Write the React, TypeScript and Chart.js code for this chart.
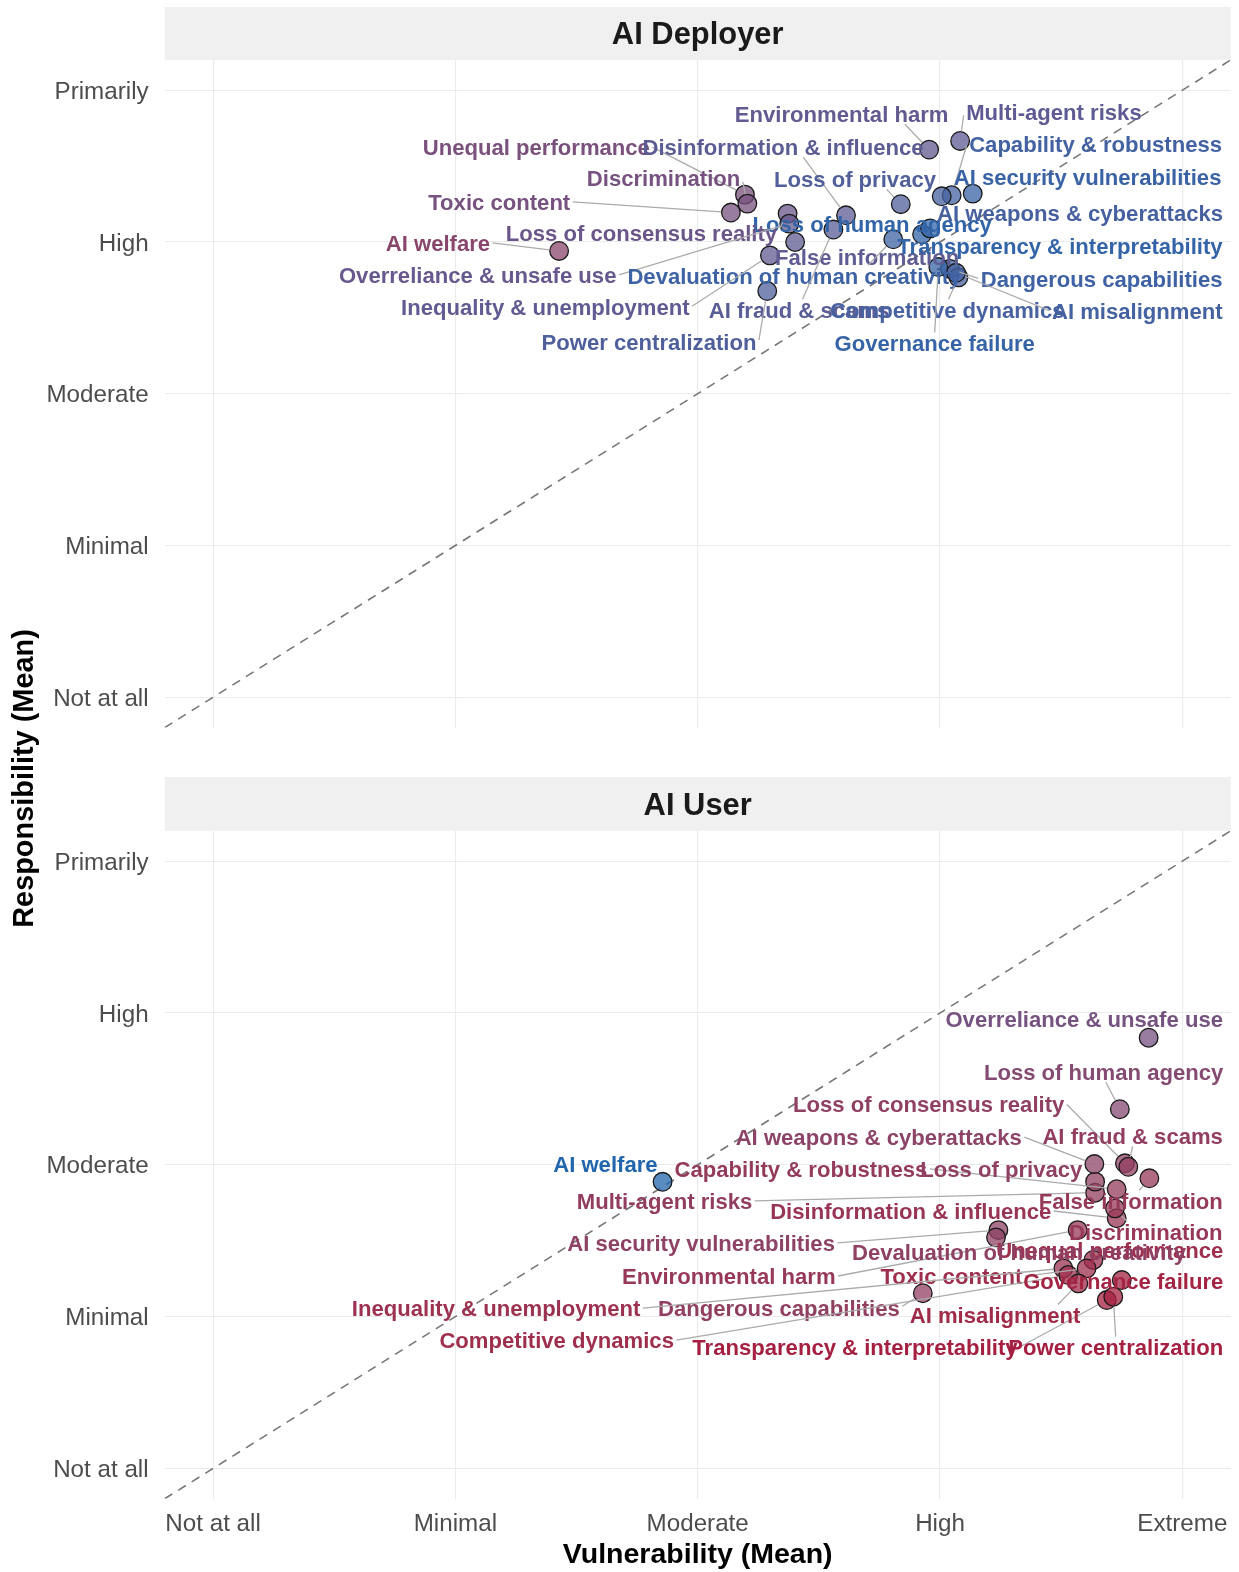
import React, { useEffect, useRef } from "react";
import { Chart, registerables } from "chart.js";

Chart.register(...registerables);

// ---------------- data ----------------
const risks = [
  "Environmental harm",
  "Multi-agent risks",
  "Unequal performance",
  "Disinformation & influence",
  "Capability & robustness",
  "Discrimination",
  "Loss of privacy",
  "AI security vulnerabilities",
  "Toxic content",
  "Loss of human agency",
  "AI weapons & cyberattacks",
  "AI welfare",
  "Loss of consensus reality",
  "False information",
  "Transparency & interpretability",
  "Overreliance & unsafe use",
  "Devaluation of human creativity",
  "Dangerous capabilities",
  "Inequality & unemployment",
  "AI fraud & scams",
  "Competitive dynamics",
  "AI misalignment",
  "Power centralization",
  "Governance failure",
];

const xTickLabels = ["Not at all", "Minimal", "Moderate", "High", "Extreme"];
const yTickLabels = ["Not at all", "Minimal", "Moderate", "High", "Primarily"];
const panelTitles = ["AI Deployer", "AI User"];

const deployerVulnerability = [
  3.955, 4.083, 3.195, 3.612, 4.048, 3.205, 3.838, 4.135, 3.137, 3.926, 4.007, 2.428,
  3.371, 3.402, 3.959, 3.378, 3.807, 4.041, 3.298, 3.56, 4.076, 4.066, 3.287, 3.993,
];
const deployerResponsibility = [
  4.609, 4.666, 4.312, 4.176, 4.308, 4.253, 4.249, 4.319, 4.194, 4.051, 4.301, 3.941,
  4.187, 4.0, 4.09, 4.121, 4.018, 3.823, 3.912, 4.082, 3.767, 3.797, 3.677, 3.835,
];
const userVulnerability = [
  4.568, 4.64, 4.633, 4.729, 4.729, 4.722, 4.64, 4.241, 4.605, 4.742, 4.637, 2.855,
  4.763, 4.864, 4.688, 4.861, 4.231, 3.929, 4.509, 4.777, 4.529, 4.571, 4.715, 4.75,
];
const userResponsibility = [
  2.57, 2.816, 2.373, 2.648, 2.839, 2.713, 2.889, 2.57, 2.318, 3.366, 3.005, 2.888,
  3.01, 2.911, 2.109, 3.837, 2.522, 2.154, 2.318, 2.987, 2.274, 2.219, 2.131, 2.241,
];

// label placement (layout, in axis units) - repelled label centres
const deployerLabelX = [
  3.594, 4.47, 2.334, 3.352, 4.642, 2.859, 3.649, 4.609, 2.181, 3.72, 4.578, 1.928,
  2.768, 3.699, 4.495, 2.092, 3.399, 4.667, 2.371, 3.418, 4.03, 4.814, 2.799, 3.978,
];
const deployerLabelY = [
  4.846, 4.86, 4.628, 4.628, 4.649, 4.424, 4.417, 4.43, 4.265, 4.12, 4.192, 3.994,
  4.06, 3.902, 3.974, 3.782, 3.776, 3.756, 3.572, 3.552, 3.552, 3.545, 3.34, 3.334,
];
const userLabelX = [
  3.128, 2.863, 4.702, 3.879, 3.426, 4.849, 4.253, 3.014, 4.047, 4.675, 3.747, 2.619,
  3.953, 4.787, 3.649, 4.595, 4.326, 3.335, 2.168, 4.795, 2.418, 4.227, 4.725, 4.756,
];
const userLabelY = [
  2.267, 2.762, 2.439, 2.696, 2.974, 2.558, 2.974, 2.485, 2.267, 3.614, 3.185, 3.007,
  3.403, 2.762, 1.798, 3.958, 2.426, 2.056, 2.056, 3.192, 1.845, 2.01, 1.798, 2.234,
];

// ---------------- layout / style ----------------
const W = 1239;
const H = 1572;
const AXIS_MIN = 0.8;
const AXIS_MAX = 5.2;
const PLOT_LEFT = 164.6;
const PLOT_RIGHT = 1230.8;
const FONT = "'Liberation Sans', Arial, Helvetica, sans-serif";
const LOW_COLOR = [33, 102, 172];
const HIGH_COLOR = [165, 32, 64];
const LABEL_SIZE = 22.1;
const TICK_SIZE = 24.2;
const TEXT_DY = 2;
const POINT_R = 9.3;

const panelLayout = [
  { stripTop: 7, top: 59.9, bottom: 727.6, showX: false },
  { stripTop: 777, top: 830.8, bottom: 1498.8, showX: true },
];

// ---------------- colour scale (Lab interpolation) ----------------
function toLin(c: number) {
  c /= 255;
  return c <= 0.04045 ? c / 12.92 : Math.pow((c + 0.055) / 1.055, 2.4);
}
function fromLin(c: number) {
  const v = c <= 0.0031308 ? 12.92 * c : 1.055 * Math.pow(c, 1 / 2.4) - 0.055;
  return Math.round(Math.max(0, Math.min(1, v)) * 255);
}
function rgbToLab(rgb: number[]) {
  const R = toLin(rgb[0]), G = toLin(rgb[1]), B = toLin(rgb[2]);
  const X = (0.4124 * R + 0.3576 * G + 0.1805 * B) / 0.95047;
  const Y = 0.2126 * R + 0.7152 * G + 0.0722 * B;
  const Z = (0.0193 * R + 0.1192 * G + 0.9505 * B) / 1.08883;
  const f = (t: number) => (t > 0.008856 ? Math.cbrt(t) : 7.787 * t + 16 / 116);
  const fx = f(X), fy = f(Y), fz = f(Z);
  return [116 * fy - 16, 500 * (fx - fy), 200 * (fy - fz)];
}
function labToRgb(lab: number[]) {
  const fy = (lab[0] + 16) / 116;
  const fx = fy + lab[1] / 500;
  const fz = fy - lab[2] / 200;
  const inv = (t: number) => (t * t * t > 0.008856 ? t * t * t : (t - 16 / 116) / 7.787);
  const X = inv(fx) * 0.95047, Y = inv(fy), Z = inv(fz) * 1.08883;
  const R = 3.2406 * X - 1.5372 * Y - 0.4986 * Z;
  const G = -0.9689 * X + 1.8758 * Y + 0.0415 * Z;
  const B = 0.0557 * X - 0.204 * Y + 1.057 * Z;
  return [fromLin(R), fromLin(G), fromLin(B)];
}
const lowLab = rgbToLab(LOW_COLOR);
const highLab = rgbToLab(HIGH_COLOR);

const allGaps = [
  ...deployerVulnerability.map((v, i) => Math.abs(deployerResponsibility[i] - v)),
  ...userVulnerability.map((v, i) => Math.abs(userResponsibility[i] - v)),
];
const gapMin = Math.min(...allGaps);
const gapMax = Math.max(...allGaps);

function gapColor(gap: number) {
  const t = (gap - gapMin) / (gapMax - gapMin);
  const lab = lowLab.map((l, k) => l + (highLab[k] - l) * t);
  return labToRgb(lab);
}
const rgba = (c: number[], a: number) => `rgba(${c[0]},${c[1]},${c[2]},${a})`;

// ggrepel-style connection point on the label box
function connect(px: number, py: number, b: { x1: number; y1: number; x2: number; y2: number }) {
  let ox: number, oy: number;
  let left = false, right = false, top = false, bottom = false;
  if (px >= b.x1 && px <= b.x2) ox = px;
  else if (px > b.x2) { ox = b.x2; right = true; }
  else { ox = b.x1; left = true; }
  if (py >= b.y1 && py <= b.y2) oy = py;
  else if (py > b.y2) { oy = b.y2; bottom = true; }
  else { oy = b.y1; top = true; }
  const midx = (b.x1 + b.x2) / 2;
  const midy = (b.y1 + b.y2) / 2;
  const d = Math.hypot(px - ox, py - oy);
  if ((top || bottom) && !(left || right)) {
    const altd = Math.hypot(px - midx, py - oy);
    ox = ox + ((midx - ox) * d) / altd;
  } else if ((left || right) && !(top || bottom)) {
    const altd = Math.hypot(px - ox, py - midy);
    oy = oy + ((midy - oy) * d) / altd;
  } else if ((left || right) && (top || bottom)) {
    const a1 = Math.hypot(px - midx, py - oy);
    const a2 = Math.hypot(px - ox, py - midy);
    if (a1 < a2) ox = ox + ((midx - ox) * d) / a1;
    else oy = oy + ((midy - oy) * d) / a2;
  }
  return [ox, oy];
}

function makeChart(canvas: HTMLCanvasElement, p: number) {
  const layout = panelLayout[p];
  const vul = p === 0 ? deployerVulnerability : userVulnerability;
  const resp = p === 0 ? deployerResponsibility : userResponsibility;
  const lx = p === 0 ? deployerLabelX : userLabelX;
  const ly = p === 0 ? deployerLabelY : userLabelY;
  const colors = vul.map((v, i) => gapColor(Math.abs(resp[i] - v)));

  const stripPlugin = {
    id: "strip" + p,
    beforeDraw(chart: any) {
      const { ctx, chartArea } = chart;
      ctx.save();
      ctx.fillStyle = "#F0F0F0";
      ctx.fillRect(chartArea.left, layout.stripTop, chartArea.right - chartArea.left, chartArea.top - layout.stripTop);
      ctx.fillStyle = "#1A1A1A";
      ctx.font = `bold 30.9px ${FONT}`;
      ctx.textAlign = "center";
      ctx.textBaseline = "middle";
      ctx.fillText(panelTitles[p], (chartArea.left + chartArea.right) / 2, (layout.stripTop + chartArea.top) / 2 + 2.5);
      ctx.restore();
    },
  };

  const labelPlugin = {
    id: "labels" + p,
    afterDatasetsDraw(chart: any) {
      const { ctx, chartArea } = chart;
      const xs = chart.scales.x;
      const ys = chart.scales.y;
      ctx.save();
      ctx.font = `bold ${LABEL_SIZE}px ${FONT}`;
      ctx.textAlign = "center";
      ctx.textBaseline = "middle";
      const halfH = LABEL_SIZE * 0.37 + 2.5;
      risks.forEach((name, i) => {
        const px = xs.getPixelForValue(vul[i]);
        const py = ys.getPixelForValue(resp[i]);
        let cx = xs.getPixelForValue(lx[i]);
        const cy = ys.getPixelForValue(ly[i]);
        const w = ctx.measureText(name).width;
        const halfW = w / 2 + 2.5;
        if (cx + halfW > chartArea.right - 5) cx = chartArea.right - 5 - halfW;
        if (cx - halfW < chartArea.left + 5) cx = chartArea.left + 5 + halfW;
        const box = { x1: cx - halfW, x2: cx + halfW, y1: cy - halfH, y2: cy + halfH };
        const [sx, sy] = connect(px, py, box);
        const L = Math.hypot(px - sx, py - sy);
        if (L > POINT_R + 5) {
          const ex = px - ((px - sx) / L) * (POINT_R + 0.5);
          const ey = py - ((py - sy) / L) * (POINT_R + 0.5);
          ctx.strokeStyle = "#ABABAB";
          ctx.lineWidth = 1.3;
          ctx.beginPath();
          ctx.moveTo(sx, sy);
          ctx.lineTo(ex, ey);
          ctx.stroke();
        }
        ctx.fillStyle = rgba(colors[i], 1);
        ctx.fillText(name, cx, cy + TEXT_DY);
      });
      ctx.restore();
    },
  };

  const titlePlugin = {
    id: "titles" + p,
    afterDraw(chart: any) {
      if (!layout.showX) return;
      const { ctx, chartArea } = chart;
      ctx.save();
      ctx.fillStyle = "#000000";
      ctx.textAlign = "center";
      ctx.textBaseline = "middle";
      ctx.font = `bold 28.5px ${FONT}`;
      ctx.fillText("Vulnerability (Mean)", (chartArea.left + chartArea.right) / 2, 1555.5);
      ctx.font = `bold 28.9px ${FONT}`;
      ctx.translate(25.5, 778.5);
      ctx.rotate(-Math.PI / 2);
      ctx.fillText("Responsibility (Mean)", 0, 0);
      ctx.restore();
    },
  };

  const tickValues = xTickLabels.map((_, k) => k + 1);

  return new Chart(canvas, {
    type: "scatter",
    data: {
      datasets: [
        {
          type: "line",
          data: [
            { x: AXIS_MIN, y: AXIS_MIN },
            { x: AXIS_MAX, y: AXIS_MAX },
          ],
          borderColor: "#777777",
          borderWidth: 1.6,
          borderDash: [9, 7],
          pointRadius: 0,
          fill: false,
          order: 2,
        },
        {
          type: "scatter",
          data: vul.map((v, i) => ({ x: v, y: resp[i] })),
          pointRadius: POINT_R,
          pointBackgroundColor: colors.map((c) => rgba(c, 0.75)),
          pointBorderColor: "#1A1A1A",
          pointBorderWidth: 1.3,
          order: 1,
        },
      ],
    } as any,
    options: {
      animation: false,
      responsive: false,
      devicePixelRatio: 1,
      events: [],
      layout: {
        autoPadding: false,
        padding: {
          left: 0,
          top: layout.top,
          right: W - PLOT_RIGHT,
          bottom: layout.showX ? 0 : H - layout.bottom,
        },
      },
      plugins: { legend: { display: false }, tooltip: { enabled: false } },
      scales: {
        x: {
          type: "linear",
          min: AXIS_MIN,
          max: AXIS_MAX,
          afterBuildTicks: (s: any) => {
            s.ticks = tickValues.map((value) => ({ value }));
          },
          afterFit: (s: any) => {
            s.height = layout.showX ? H - layout.bottom : 0;
            s.paddingLeft = 0;
            s.paddingRight = 0;
          },
          grid: { color: "#EBEBEB", lineWidth: 1.1, drawTicks: false },
          border: { display: false },
          ticks: {
            display: layout.showX,
            callback: (v: any) => xTickLabels[Math.round(v) - 1],
            font: { family: FONT, size: TICK_SIZE },
            color: "#4D4D4D",
            padding: 11,
            maxRotation: 0,
            autoSkip: false,
          },
        },
        y: {
          type: "linear",
          min: AXIS_MIN,
          max: AXIS_MAX,
          afterBuildTicks: (s: any) => {
            s.ticks = tickValues.map((value) => ({ value }));
          },
          afterFit: (s: any) => {
            s.width = PLOT_LEFT;
            s.paddingTop = 0;
            s.paddingBottom = 0;
          },
          grid: { color: "#EBEBEB", lineWidth: 1.1, drawTicks: false },
          border: { display: false },
          ticks: {
            callback: (v: any) => yTickLabels[Math.round(v) - 1],
            font: { family: FONT, size: TICK_SIZE },
            color: "#4D4D4D",
            padding: 16,
            labelOffset: 2,
            autoSkip: false,
          },
        },
      },
    } as any,
    plugins: [stripPlugin, labelPlugin, titlePlugin],
  });
}

export default function App() {
  const topRef = useRef<HTMLCanvasElement | null>(null);
  const bottomRef = useRef<HTMLCanvasElement | null>(null);

  useEffect(() => {
    document.body.style.margin = "0";
    const charts: Chart[] = [];
    if (topRef.current) charts.push(makeChart(topRef.current, 0));
    if (bottomRef.current) charts.push(makeChart(bottomRef.current, 1));
    return () => charts.forEach((c) => c.destroy());
  }, []);

  return (
    <div style={{ position: "absolute", left: 0, top: 0, width: W, height: H, background: "#FFFFFF" }}>
      <canvas ref={topRef} width={W} height={H} style={{ position: "absolute", left: 0, top: 0, width: W, height: H }} />
      <canvas ref={bottomRef} width={W} height={H} style={{ position: "absolute", left: 0, top: 0, width: W, height: H }} />
    </div>
  );
}
